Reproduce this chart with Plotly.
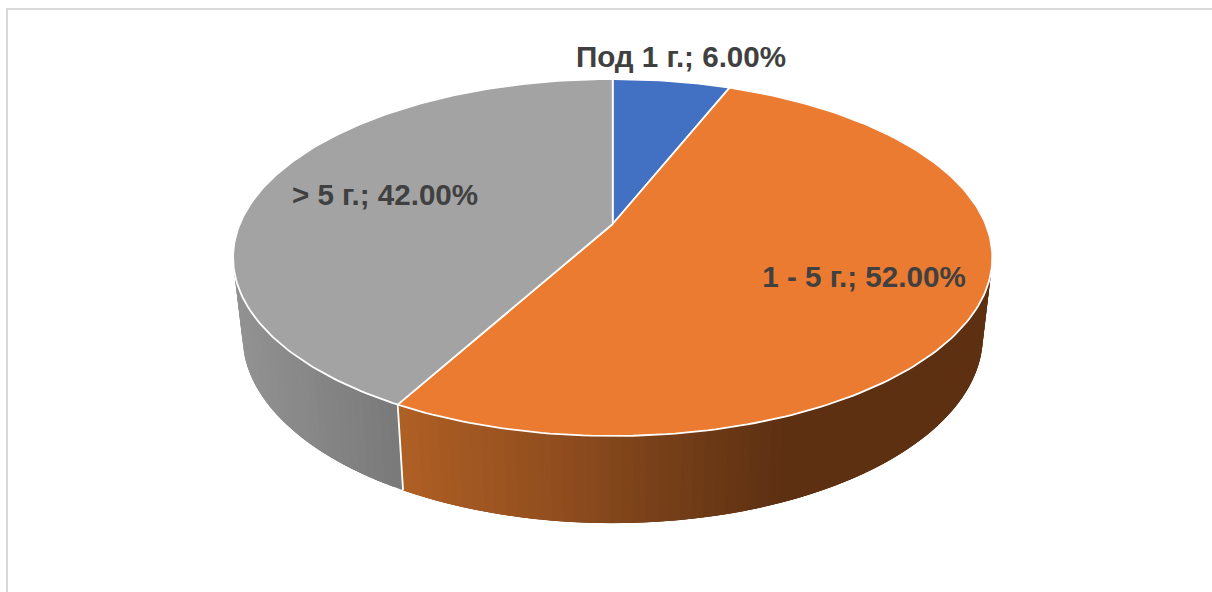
import numpy as np
import plotly.graph_objects as go

# Chart data
categories = ["Под 1 г.", "1 - 5 г.", "> 5 г."]
shares = [6.0, 52.0, 42.0]
top_colors = ["#4270C2", "#EB7B31", "#A3A3A3"]

# Side-wall shading: (screen x, colour) stops per slice
wall_stops = {
    1: ([403, 560, 690, 785], [(174, 95, 36), (144, 77, 30), (112, 60, 23), (94, 48, 18)]),
    2: ([235, 400], [(146, 146, 146), (121, 121, 121)]),
}

# Label placement in screen-like axis units
label_xy = [(681, 60), (864, 280), (385, 198)]

# Perspective disc parameters
APEX_X, APEX_Y = 612.7, 224.0
SCALE_X, SCALE_Y, TILT = 372.9, 172.2, 0.1877
BASE_SHRINK, BASE_STRETCH, BASE_DROP = 0.975, 1.048, 77.0
WALL_FROM, WALL_TO = 100.8, 259.2
EDGE = "#FFFFFF"
STEP = 1.5


def rim(angle_deg):
    """Project points of the disc rim, angle clockwise from 12 o'clock."""
    t = np.radians(np.asarray(angle_deg, dtype=float))
    u, v = np.sin(t), np.cos(t)
    d = 1 + TILT * v
    return APEX_X + SCALE_X * u / d, APEX_Y - SCALE_Y * v / d


def base(angle_deg):
    """Project points of the lower rim, offset below the top disc."""
    x, y = rim(angle_deg)
    return APEX_X + (x - APEX_X) * BASE_SHRINK, APEX_Y + BASE_DROP + (y - APEX_Y) * BASE_STRETCH


def shade(slice_index, x):
    xs, cols = wall_stops[slice_index]
    rgb = [np.interp(x, xs, [c[i] for c in cols]) for i in range(3)]
    return "rgb({:.0f},{:.0f},{:.0f})".format(*rgb)


cum = np.concatenate([[0.0], np.cumsum(shares)]) * 3.6
fig = go.Figure()


def add_poly(xs, ys, fill, line_color, line_width):
    fig.add_trace(go.Scatter(
        x=xs, y=ys, mode="lines", fill="toself", fillcolor=fill,
        line=dict(color=line_color, width=line_width), hoverinfo="skip", showlegend=False,
    ))


# Side wall: overlapping shaded bands painted in sweep order, so no seams show
for i in (1, 2):
    lo, hi = max(cum[i], WALL_FROM), min(cum[i + 1], WALL_TO)
    for a0 in np.arange(lo, hi, STEP):
        arc = np.linspace(a0, min(a0 + 3 * STEP, hi), 9)
        tx, ty = rim(arc)
        bx, by = base(arc[::-1])
        band_x = rim(a0 + STEP / 2)[0]
        col = shade(i, float(band_x))
        add_poly(np.r_[tx, bx, tx[0]], np.r_[ty, by, ty[0]], col, "rgba(0,0,0,0)", 0)

# White seam on the wall where two slices meet
for a in cum[1:-1]:
    if WALL_FROM < a < WALL_TO:
        tx, ty = rim(a)
        bx, by = base(a)
        fig.add_trace(go.Scatter(x=[tx, bx], y=[ty, by], mode="lines",
                                 line=dict(color=EDGE, width=1.8),
                                 hoverinfo="skip", showlegend=False))

# Top face of every slice
for i in range(len(shares)):
    angles = np.linspace(cum[i], cum[i + 1], 180)
    x, y = rim(angles)
    add_poly(np.r_[APEX_X, x, APEX_X], np.r_[APEX_Y, y, APEX_Y], top_colors[i], EDGE, 1.8)

# Data labels
for name, val, (lx, ly) in zip(categories, shares, label_xy):
    fig.add_trace(go.Scatter(
        x=[lx], y=[ly], mode="text", text=[f"{name}; {val:.2f}%"],
        textposition="middle center",
        textfont=dict(family="Liberation Sans", size=29.6, color="#404040", weight="bold"),
        hoverinfo="skip", showlegend=False,
    ))

# Chart frame: only the top and left edges fall inside the canvas
frame = dict(color="#D9D9D9", width=2)
fig.add_shape(type="line", x0=6, x1=1212, y0=9, y1=9, line=frame)
fig.add_shape(type="line", x0=7, x1=7, y0=8, y1=592, line=frame)

fig.update_layout(
    width=1212, height=592, margin=dict(l=0, r=0, t=0, b=0),
    paper_bgcolor="white", plot_bgcolor="white", showlegend=False,
    xaxis=dict(range=[0, 1212], visible=False, fixedrange=True),
    yaxis=dict(range=[592, 0], visible=False, fixedrange=True),
)
fig.write_html("out.html", config=dict(displayModeBar=False))
